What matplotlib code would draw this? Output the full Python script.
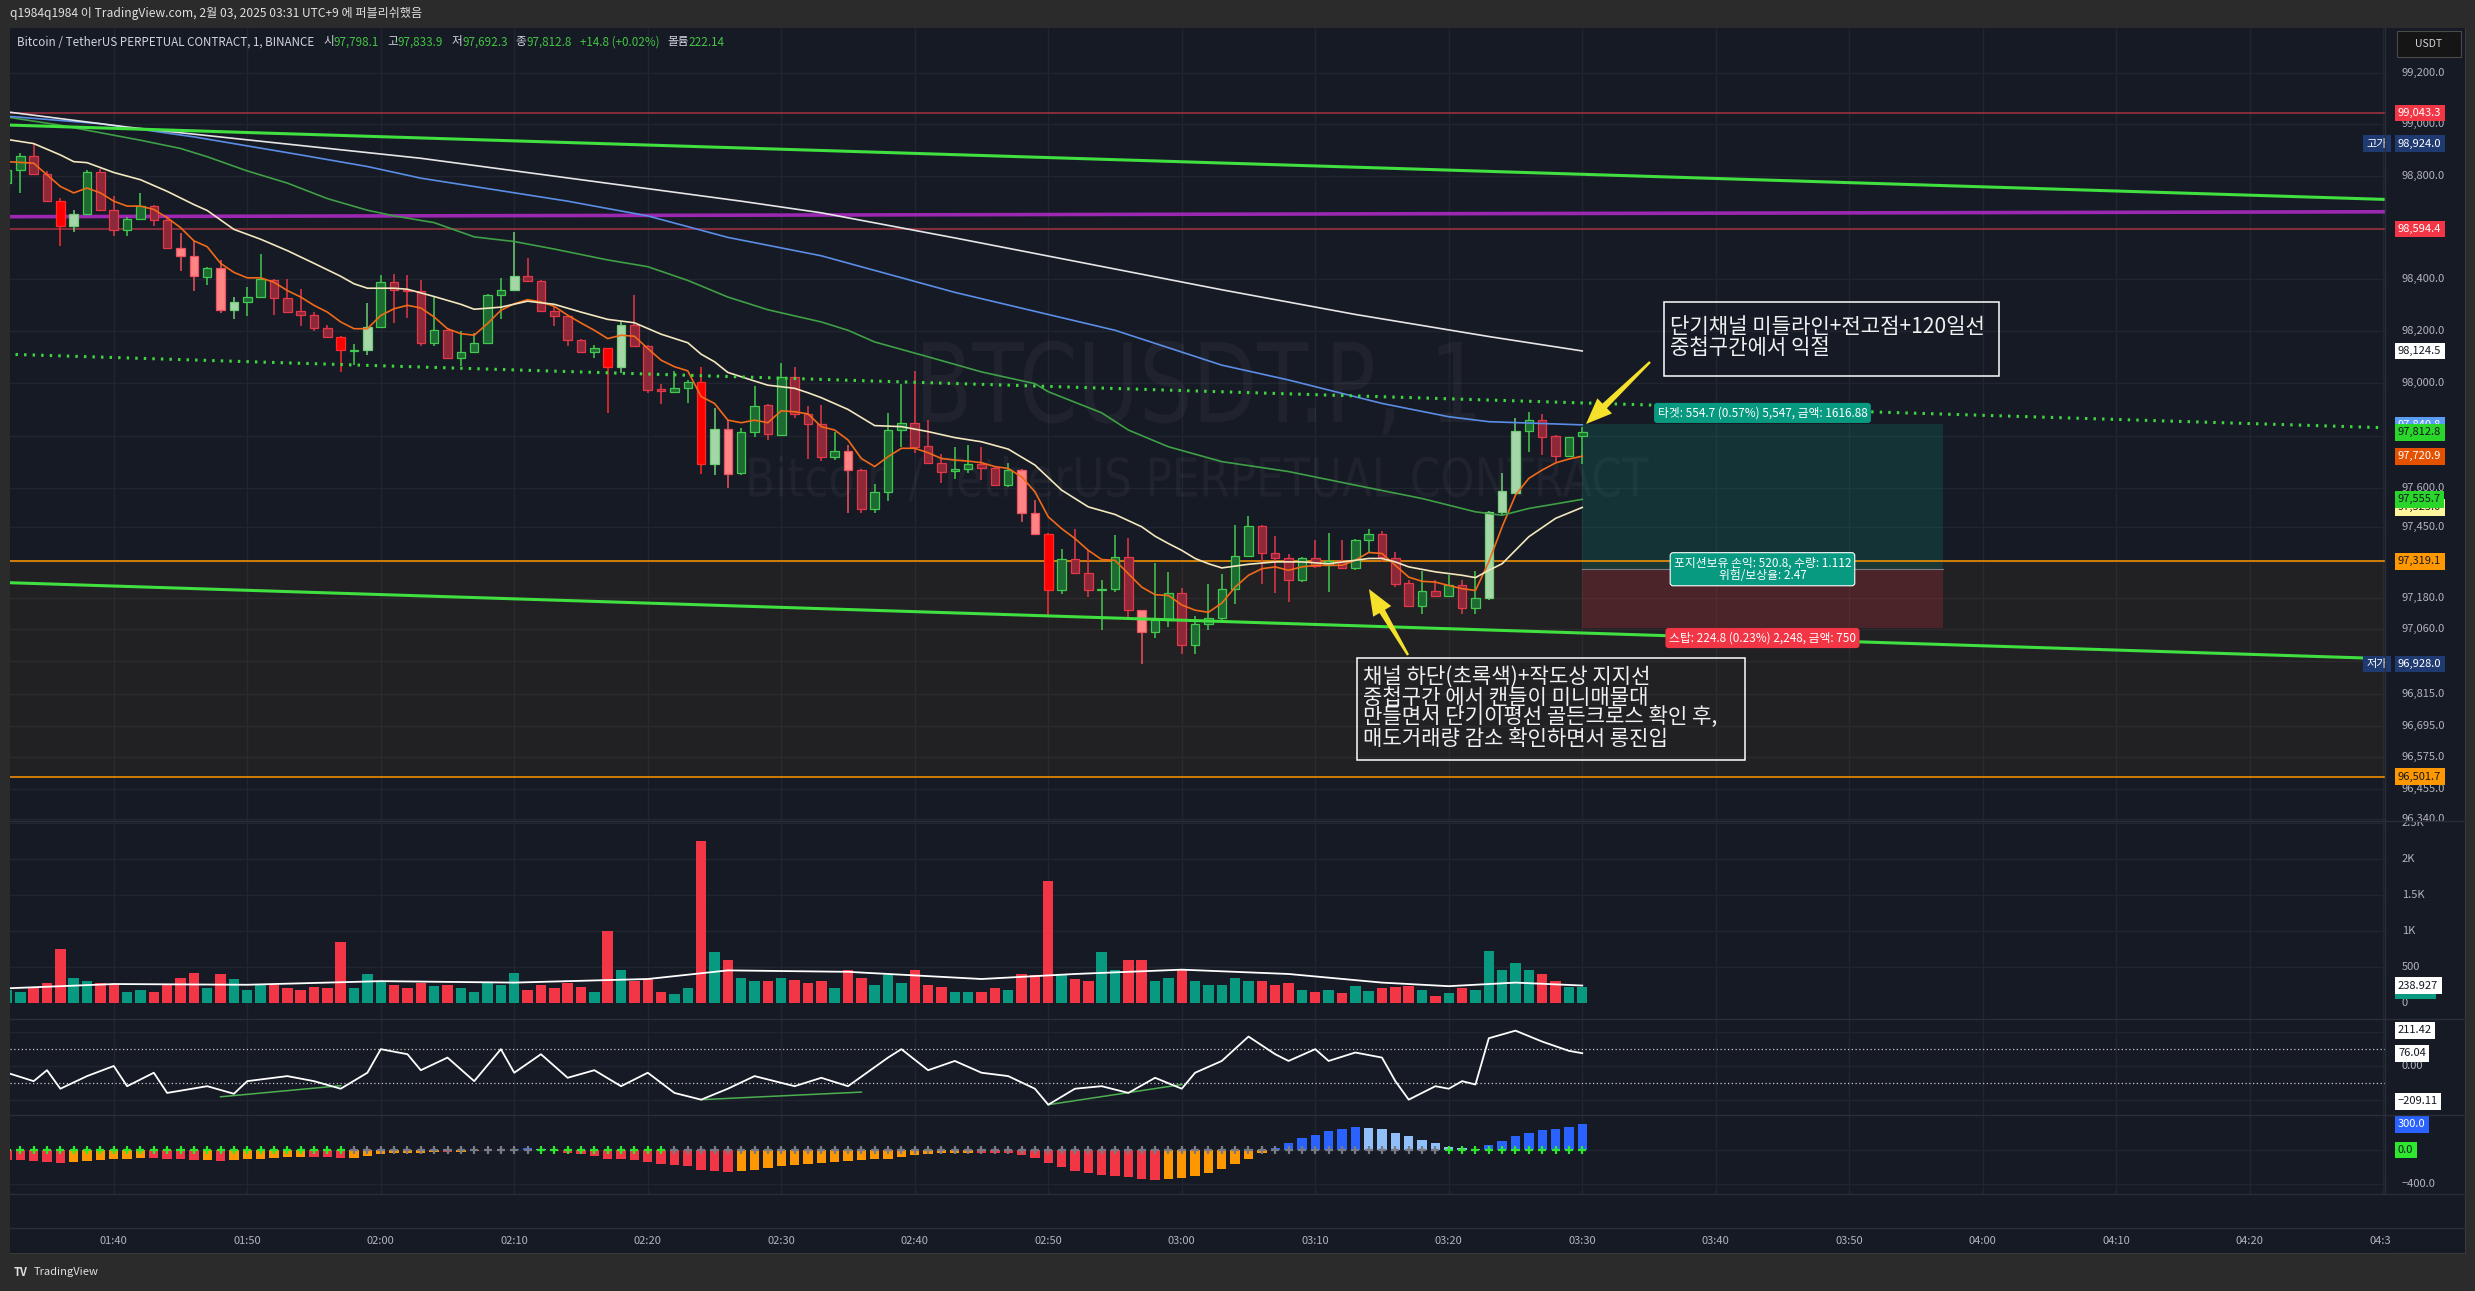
import numpy as np
import matplotlib
matplotlib.use("Agg")
import matplotlib.pyplot as plt
import matplotlib.transforms as mtrans
from matplotlib.patches import Rectangle, Polygon, PathPatch
from matplotlib.textpath import TextPath
from matplotlib.font_manager import FontProperties
from matplotlib.ticker import NullLocator

plt.rcParams['font.family'] = ['Noto Sans CJK KR', 'DejaVu Sans']

# ---------------- data (1 min bars) ----------------
first_bar = "01:32"
opens = [98772, 98823, 98877, 98808, 98702, 98605, 98651, 98816, 98669, 98592,
         98632, 98683, 98628, 98523, 98489, 98408, 98444, 98281, 98313, 98332,
         98398, 98328, 98277, 98264, 98214, 98179, 98126, 98130, 98217, 98389,
         98361, 98357, 98156, 98207, 98099, 98121, 98156, 98339, 98360, 98413,
         98394, 98279, 98260, 98168, 98121, 98134, 98061, 98226, 98145, 97977,
         97968, 97983, 98004, 97690, 97824, 97658, 97812, 97916, 97802, 98023,
         97881, 97843, 97716, 97741, 97668, 97517, 97582, 97821, 97847, 97760,
         97693, 97664, 97670, 97691, 97677, 97610, 97668, 97502, 97425, 97211,
         97329, 97276, 97211, 97215, 97336, 97132, 97051, 97096, 97198, 97000,
         97081, 97104, 97215, 97340, 97453, 97351, 97330, 97249, 97333, 97304,
         97321, 97295, 97402, 97425, 97333, 97236, 97148, 97206, 97187, 97228,
         97141, 97180, 97508, 97581, 97817, 97859, 97798, 97723, 97798.1]
highs = [98830, 98887, 98924, 98817, 98715, 98666, 98823, 98827, 98721, 98641,
         98733, 98687, 98645, 98578, 98549, 98447, 98476, 98334, 98370, 98498,
         98402, 98402, 98364, 98274, 98223, 98181, 98153, 98309, 98415, 98421,
         98415, 98396, 98332, 98210, 98202, 98194, 98342, 98406, 98583, 98482,
         98396, 98296, 98264, 98171, 98147, 98135, 98239, 98338, 98148, 97997,
         98046, 98013, 98064, 97904, 97859, 97827, 97990, 97921, 98080, 98061,
         97915, 97917, 97815, 97764, 97670, 97614, 97885, 97997, 98047, 97859,
         97728, 97755, 97764, 97755, 97683, 97693, 97670, 97555, 97428, 97365,
         97444, 97361, 97247, 97419, 97410, 97134, 97313, 97278, 97218, 97110,
         97234, 97270, 97457, 97492, 97456, 97415, 97346, 97336, 97402, 97429,
         97402, 97406, 97442, 97436, 97355, 97247, 97281, 97247, 97268, 97247,
         97281, 97511, 97655, 97866, 97891, 97881, 97802, 97796, 97833.9]
lows = [98766, 98734, 98804, 98699, 98530, 98581, 98648, 98666, 98568, 98568,
        98629, 98606, 98521, 98434, 98357, 98377, 98271, 98246, 98259, 98329,
        98262, 98272, 98219, 98202, 98176, 98044, 98070, 98108, 98214, 98233,
        98253, 98144, 98144, 98092, 98067, 98115, 98150, 98249, 98355, 98393,
        98277, 98219, 98144, 98117, 98099, 97887, 98038, 98143, 97964, 97921,
        97965, 97926, 97653, 97649, 97601, 97649, 97796, 97783, 97799, 97866,
        97709, 97702, 97706, 97502, 97502, 97502, 97550, 97757, 97734, 97691,
        97619, 97633, 97658, 97630, 97607, 97604, 97470, 97423, 97116, 97195,
        97272, 97183, 97058, 97202, 97106, 96928, 97027, 97070, 96966, 96968,
        97058, 97096, 97155, 97336, 97231, 97199, 97164, 97240, 97295, 97202,
        97291, 97287, 97349, 97317, 97221, 97147, 97119, 97183, 97183, 97119,
        97119, 97170, 97496, 97576, 97738, 97725, 97700, 97719, 97692.3]
closes = [98823, 98877, 98808, 98702, 98605, 98651, 98816, 98669, 98592, 98632,
          98683, 98628, 98523, 98489, 98414, 98444, 98281, 98313, 98332, 98402,
          98328, 98274, 98264, 98213, 98179, 98127, 98130, 98217, 98389, 98360,
          98356, 98156, 98207, 98099, 98122, 98156, 98339, 98360, 98413, 98394,
          98279, 98259, 98166, 98121, 98134, 98061, 98225, 98144, 97974, 97972,
          97983, 98004, 97690, 97824, 97651, 97812, 97914, 97804, 98023, 97881,
          97843, 97716, 97741, 97668, 97517, 97582, 97821, 97847, 97757, 97693,
          97661, 97670, 97689, 97674, 97610, 97668, 97502, 97425, 97211, 97328,
          97275, 97211, 97215, 97336, 97134, 97051, 97096, 97198, 97000, 97081,
          97104, 97215, 97340, 97453, 97351, 97330, 97249, 97332, 97302, 97321,
          97295, 97402, 97425, 97336, 97234, 97148, 97206, 97187, 97228, 97141,
          97180, 97508, 97587, 97817, 97859, 97796, 97723, 97793, 97812.8]
# candle shade per bar: g/G green normal/high volume, r/R red normal/very high, p red high
styles = ("ggrrRGgrrg" "grrppgpGgg" "rrrrrRgGgr" "rrgrggggGr" "rrrrgRGrrr" "ggRGpggrgr"
          "rrgprgggrr" "rggrrgppRg" "rrggrpggrg" "ggggrrrgrg" "rggrrrgrgr" "gGGGgrrgg")
volumes = [180, 150, 200, 280, 750, 350, 300, 280, 250, 150,
           170, 150, 250, 350, 420, 200, 400, 330, 180, 260,
           240, 200, 180, 220, 200, 850, 200, 400, 300, 250,
           200, 280, 230, 250, 200, 150, 280, 250, 420, 180,
           250, 200, 280, 220, 150, 1000, 450, 300, 330, 150,
           120, 200, 2250, 700, 600, 350, 300, 300, 350, 320,
           280, 300, 200, 450, 350, 250, 380, 280, 450, 250,
           220, 150, 150, 150, 200, 170, 400, 380, 1700, 400,
           330, 300, 700, 450, 600, 600, 300, 350, 450, 300,
           250, 250, 350, 300, 300, 250, 280, 170, 150, 180,
           130, 230, 160, 200, 220, 230, 170, 100, 140, 200,
           180, 720, 450, 550, 450, 400, 300, 220, 222.14]
ema_fast = [98855, 98852, 98849, 98804, 98759, 98734, 98753, 98734, 98702, 98683,
            98683, 98670, 98638, 98600, 98549, 98526, 98462, 98427, 98406, 98406,
            98389, 98357, 98332, 98300, 98274, 98236, 98210, 98210, 98261, 98287,
            98300, 98290, 98255, 98210, 98191, 98185, 98230, 98281, 98306, 98322,
            98313, 98296, 98262, 98232, 98204, 98172, 98185, 98181, 98134, 98089,
            98064, 98048, 97949, 97923, 97859, 97849, 97859, 97849, 97895, 97891,
            97883, 97834, 97821, 97783, 97712, 97681, 97719, 97751, 97751, 97734,
            97712, 97706, 97702, 97696, 97681, 97674, 97642, 97585, 97489, 97444,
            97406, 97361, 97326, 97323, 97272, 97221, 97192, 97189, 97153, 97133,
            97125, 97160, 97221, 97266, 97291, 97298, 97285, 97298, 97304, 97304,
            97304, 97323, 97353, 97349, 97304, 97259, 97243, 97240, 97227, 97215,
            97208, 97317, 97451, 97572, 97636, 97668, 97695, 97710, 97720.9]

ma_cream_t = ["01:32", "01:34", "01:36", "01:37", "01:38", "01:40", "01:42", "01:44", "01:46", "01:47",
              "01:49", "01:51", "01:53", "01:55", "01:57", "01:58", "01:59", "02:01", "02:02", "02:04",
              "02:06", "02:07", "02:09", "02:11", "02:13", "02:15", "02:17", "02:19", "02:21", "02:23",
              "02:24", "02:25", "02:26", "02:28", "02:29", "02:31", "02:32", "02:33", "02:35", "02:37",
              "02:39", "02:41", "02:43", "02:45", "02:47", "02:49", "02:51", "02:53", "02:55", "02:57",
              "02:58", "02:59", "03:00", "03:01", "03:02", "03:03", "03:05", "03:07", "03:09", "03:11",
              "03:13", "03:14", "03:15", "03:16", "03:17", "03:19", "03:21", "03:22", "03:23", "03:24",
              "03:26", "03:28", "03:30"]
ma_cream_v = [98941, 98925, 98881, 98855, 98851, 98813, 98785, 98740, 98689, 98666,
              98593, 98555, 98511, 98462, 98412, 98383, 98366, 98366, 98362, 98334,
              98304, 98285, 98293, 98316, 98304, 98274, 98246, 98233, 98189, 98156,
              98112, 98083, 98042, 98009, 97993, 97981, 97964, 97945, 97900, 97838,
              97834, 97815, 97792, 97776, 97748, 97687, 97591, 97527, 97498, 97451,
              97415, 97387, 97361, 97330, 97310, 97294, 97308, 97317, 97317, 97310,
              97323, 97330, 97330, 97317, 97298, 97279, 97266, 97257, 97285, 97310,
              97413, 97483, 97525]
ma_green_t = ["01:32", "01:36", "01:39", "01:42", "01:45", "01:47", "01:50", "01:53", "01:56", "01:59",
              "02:01", "02:04", "02:07", "02:10", "02:13", "02:17", "02:20", "02:23", "02:26", "02:29",
              "02:33", "02:35", "02:37", "02:41", "02:45", "02:49", "02:50", "02:54", "02:56", "02:59",
              "03:03", "03:08", "03:13", "03:18", "03:22", "03:24", "03:26", "03:30"]
ma_green_v = [99028, 98996, 98967, 98938, 98906, 98874, 98819, 98772, 98712, 98667,
              98645, 98619, 98564, 98546, 98517, 98475, 98449, 98396, 98332, 98283,
              98236, 98204, 98159, 98102, 98044, 97999, 97968, 97887, 97821, 97757,
              97700, 97662, 97610, 97559, 97508, 97495, 97521, 97555.7]
ma_blue_t = ["01:32", "01:39", "01:46", "01:54", "01:59", "02:03", "02:14", "02:20", "02:26", "02:33",
             "02:43", "02:55", "03:03", "03:08", "03:15", "03:20", "03:23", "03:30"]
ma_blue_v = [99031, 99002, 98951, 98881, 98836, 98791, 98702, 98645, 98562, 98491,
             98350, 98204, 98070, 98013, 97923, 97872, 97853, 97840.8]
ma_white_t = ["01:32", "01:41", "01:49", "02:03", "02:27", "02:33", "02:43", "02:53", "03:03", "03:13",
              "03:23", "03:30"]
ma_white_v = [99048, 98989, 98945, 98868, 98702, 98657, 98560, 98460, 98360, 98265, 98180, 98124.5]
vol_ma_t = ["01:32", "01:40", "01:50", "02:00", "02:10", "02:20", "02:26", "02:35", "02:45", "02:52",
            "03:00", "03:08", "03:15", "03:20", "03:25", "03:30"]
vol_ma_v = [200, 260, 250, 300, 280, 330, 450, 430, 330, 400, 460, 400, 280, 230, 280, 238.927]

# drawn objects
channel_top = [("01:32", 98997), ("04:30", 98709)]
channel_mid = [("01:32", 98112), ("04:30", 97830)]
channel_bot = [("01:32", 97238), ("04:30", 96949)]
purple_line = [("01:32", 98642), ("04:30", 98661)]
red_levels = [99043.3, 98594.4]
zone = (96501.7, 97319.1)
pos_start, pos_end = "03:30", "03:57"
pos_entry, pos_target, pos_stop = 97289.0, 97844.0, 97064.0

# oscillators
cci_min = [0, 2, 3, 4, 6, 8, 9, 11, 12, 15, 17, 18, 21, 23, 25, 27, 28, 30, 31, 33,
           35, 37, 38, 40, 42, 44, 46, 48, 50, 52, 54, 56, 59, 61, 63, 66, 67, 69, 71, 73,
           75, 77, 78, 80, 82, 84, 86, 88, 89, 91, 93, 95, 96, 98, 99, 101, 103, 104, 105, 107,
           108, 109, 110, 111, 113, 115, 117, 118]
cci_val = [-40, -90, -25, -135, -60, 0, -120, -40, -160, -120, -165, -90, -60, -90, -135, -40, 100, 70, -25, 50,
           -90, 100, -40, 70, -70, -25, -120, -40, -160, -200, -135, -60, -120, -70, -120, 50, 100, -25, 30, -40,
           -60, -135, -230, -135, -120, -160, -70, -135, -40, 30, 175, 70, 30, 100, 30, 80, 50, -90, -200, -120,
           -135, -90, -110, 165, 210, 145, 90, 76.04]
cci_div = [[("01:48", -183), ("01:57", -117)], [("02:24", -200), ("02:36", -155)],
           [("02:50", -230), ("03:00", -110)]]
squeeze = [-115, -120, -130, -140, -150, -145, -130, -120, -110, -100, -90,
           -95, -100, -110, -120, -115, -125, -120, -110, -100, -90,
           -85, -80, -80, -85, -95, -90, -70, -50, -40, -35,
           -30, -25, -25, -20, -15, -5, 5, 15, 20, 10,
           -10, -30, -50, -70, -100, -110, -120, -140, -160, -180,
           -190, -230, -250, -260, -250, -230, -210, -190, -170, -160,
           -150, -140, -130, -120, -110, -100, -80, -60, -50, -40,
           -35, -30, -30, -35, -40, -60, -90, -150, -200, -240,
           -270, -290, -300, -320, -340, -350, -340, -330, -300, -270,
           -220, -160, -100, -40, 20, 80, 140, 180, 220, 250,
           270, 260, 240, 200, 160, 120, 80, 40, 20, 10,
           60, 110, 160, 200, 230, 250, 270, 300]
squeeze_dots = "g" * 26 + "k" * 14 + "g" * 10 + "k" * 58 + "g" * 11

price_ticks = [99200, 99000, 98800, 98600, 98400, 98200, 98000, 97800, 97600, 97450, 97320,
               97180, 97060, 96940, 96815, 96695, 96575, 96455, 96340]


def tm(s):
    hh, mm = s.split(":")
    return int(hh) * 60 + int(mm)


def pts(seq):
    return [tm(a) for a, _ in seq], [b for _, b in seq]


# ---------------- layout ----------------
W, H = 2475, 1291
BG = '#161a25'
FRAME = '#2b2b2b'
GRID = '#21252f'
SEP = '#2a2e39'
AXT = '#b2b5be'

X0, X1 = 10, 2385           # plot area in pixels
XT0, DX = 20.3, 13.35       # pixel of the 01:33 bar, pixels per minute


def px_t(px):
    return tm("01:33") + (px - XT0) / DX


def px_price(py):
    return 99200 * np.exp(-(py - 72.7) / 25526)


T_L, T_R = px_t(X0), px_t(X1)

fig = plt.figure(figsize=(W / 100, H / 100), dpi=100)
fig.patch.set_facecolor(FRAME)
fig.add_artist(Rectangle((10 / W, 1 - 1253 / H), 2455 / W, 1225 / H, transform=fig.transFigure,
                         fc=BG, ec='#3a3a3a', lw=0.8, zorder=-10))


def pane(y0, y1, x0=X0, x1=X1):
    a = fig.add_axes([x0 / W, 1 - y1 / H, (x1 - x0) / W, (y1 - y0) / H])
    a.set_facecolor(BG)
    for s in a.spines.values():
        s.set_visible(False)
    a.set_xticks([])
    a.set_yticks([])
    a.set_xlim(T_L, T_R)
    return a


ax = pane(28, 821)
ax.set_yscale('log')
ax.set_ylim(px_price(821), px_price(28))
ax.yaxis.set_major_locator(NullLocator())
ax.yaxis.set_minor_locator(NullLocator())
axv = pane(821, 1019)
axv.set_ylim((1002.7 - 1019) / 35.9 * 500, (1002.7 - 821) / 35.9 * 500)
axc = pane(1019, 1115)
axc.set_ylim((1066 - 1115) / 0.1683, (1066 - 1019) / 0.1683)
axh = pane(1115, 1194)
axh.set_ylim((1150 - 1194) / 0.0858, (1150 - 1115) / 0.0858)
pane(1194, 1228)
axt = pane(1228, 1253, X0, 2390)
axt.set_xlim(T_L, px_t(2390))
axt.set_ylim(0, 1)

# price scale columns
pmain = pane(28, 821, 2385, 2465)
pmain.set_yscale('log')
pmain.set_ylim(ax.get_ylim())
pmain.yaxis.set_major_locator(NullLocator())
pmain.yaxis.set_minor_locator(NullLocator())
pvol = pane(821, 1019, 2385, 2465)
pvol.set_ylim(axv.get_ylim())
pcci = pane(1019, 1115, 2385, 2465)
pcci.set_ylim(axc.get_ylim())
phis = pane(1115, 1194, 2385, 2465)
phis.set_ylim(axh.get_ylim())
for p in (pmain, pvol, pcci, phis):
    p.set_xlim(0, 1)

# separators
for yy in (821, 1019, 1115, 1194, 1228):
    fig.add_artist(plt.Line2D([10 / W, 2465 / W], [1 - yy / H] * 2, color=SEP, lw=1, zorder=2))
fig.add_artist(plt.Line2D([2385 / W] * 2, [1 - 28 / H, 1 - 1194 / H], color=SEP, lw=1, zorder=2))

# grids
tick_times = list(range(tm("01:40"), tm("04:30") + 1, 10))
for a in (ax, axv, axc, axh):
    for tt in tick_times:
        a.axvline(tt, color=GRID, lw=1, zorder=0.5)
for v in price_ticks:
    ax.axhline(v, color=GRID, lw=1, zorder=0.5)
for v in (500, 1000, 1500, 2000, 2500):
    axv.axhline(v, color=GRID, lw=1, zorder=0.5)
for v in (200, 0, -200):
    axc.axhline(v, color=GRID, lw=1, zorder=0.5)
for v in (0, -400):
    axh.axhline(v, color=GRID, lw=1, zorder=0.5)


# watermark
def watermark(text, cx, cy, width, cap):
    fp = FontProperties(family='DejaVu Sans')
    tp = TextPath((0, 0), text, size=100, prop=fp)
    ext = tp.get_extents()
    caph = TextPath((0, 0), "B", size=100, prop=fp).get_extents().height
    tr = (mtrans.Affine2D().translate(-ext.x0 - ext.width / 2, -caph / 2)
          .scale(width / ext.width, cap / caph).translate(cx, H - cy))
    ax.add_artist(PathPatch(tp, transform=tr, fc='white', ec='none', alpha=0.045, zorder=0.8))


watermark("BTCUSDT.P, 1", 1199, 382, 552, 80)
watermark("Bitcoin / TetherUS PERPETUAL CONTRACT", 1199, 477, 899, 39)

# zone, levels, channel
ax.axhspan(zone[0], zone[1], color='#ff9800', alpha=0.05, lw=0, zorder=0.6)
for v in zone:
    ax.axhline(v, color='#ff9800', lw=1.1, zorder=2)
for v in red_levels:
    ax.axhline(v, color='#a33240', lw=1.1, zorder=2)
xp, yp = pts(purple_line)
ax.plot(xp, yp, color='#9c27b0', lw=2.6, zorder=2)

# long position tool
t0, t1 = tm(pos_start), tm(pos_end)
ax.add_patch(Rectangle((t0, pos_entry), t1 - t0, pos_target - pos_entry, fc='#089981', alpha=0.2,
                       lw=0, zorder=1))
ax.add_patch(Rectangle((t0, pos_stop), t1 - t0, pos_entry - pos_stop, fc='#f23645', alpha=0.2,
                       lw=0, zorder=1))
ax.plot([t0, t1], [pos_entry, pos_entry], color='#787b86', lw=0.8, zorder=1.2)

# candles
t = tm(first_bar) + np.arange(len(closes))
o, hi, lo, c = (np.array(v, dtype=float) for v in (opens, highs, lows, closes))
shade = {'g': ('#1d6b33', '#43c94f'), 'G': ('#a5d6a7', '#6fcf76'),
         'r': ('#8c2837', '#e5374a'), 'R': ('#ff0000', '#ff2b2b'),
         'p': ('#ff8585', '#f0525f')}
face = [shade[s][0] for s in styles]
edge = [shade[s][1] for s in styles]
ax.vlines(t, lo, hi, colors=edge, lw=1.1, zorder=4)
ax.bar(t, np.maximum(np.abs(c - o), 1.5), bottom=np.minimum(o, c), width=0.64, color=face,
       edgecolor=edge, linewidth=0.9, zorder=4.1)

# moving averages
ax.plot(t, ema_fast, color='#f06a1a', lw=1.2, zorder=5)
for tl, vl, col in ((ma_cream_t, ma_cream_v, '#f2e7bd'), (ma_green_t, ma_green_v, '#3f9f46'),
                    (ma_blue_t, ma_blue_v, '#5a8de6'), (ma_white_t, ma_white_v, '#e6e6e6')):
    ax.plot([tm(s) for s in tl], vl, color=col, lw=1.2, zorder=5)

xp, yp = pts(channel_top)
ax.plot(xp, yp, color='#3fe03f', lw=2.2, zorder=5.2)
xp, yp = pts(channel_bot)
ax.plot(xp, yp, color='#3fe03f', lw=2.2, zorder=5.2)
xp, yp = pts(channel_mid)
ax.plot(xp, yp, color='#3fd63f', lw=2.2, ls=(0, (0.8, 2.0)), zorder=5.2)

# position labels
mid = (t0 + t1) / 2
lab = dict(ha='center', va='center', fontsize=8.5, color='white', zorder=7, clip_on=False)
ax.annotate("타겟: 554.7 (0.57%) 5,547, 금액: 1616.88", (mid, pos_target), xytext=(0, 8),
            textcoords='offset points',
            bbox=dict(boxstyle='round,pad=0.3,rounding_size=0.25', fc='#089981', ec='none'), **lab)
ax.annotate("포지션보유 손익: 520.8, 수량: 1.112\n위험/보상율: 2.47", (mid, pos_entry), xytext=(0, 0),
            textcoords='offset points', linespacing=1.0,
            bbox=dict(boxstyle='round,pad=0.3,rounding_size=0.25', fc='#089981', ec='white', lw=0.8),
            **lab)
ax.annotate("스탑: 224.8 (0.23%) 2,248, 금액: 750", (mid, pos_stop), xytext=(0, -7),
            textcoords='offset points',
            bbox=dict(boxstyle='round,pad=0.3,rounding_size=0.25', fc='#f23645', ec='none'), **lab)

# volume pane
vcol = np.where(c >= o, '#089981', '#f23645')
axv.bar(t, volumes, width=0.78, color=vcol, zorder=3)
axv.plot([tm(s) for s in vol_ma_t], vol_ma_v, color='white', lw=1.3, zorder=4)

# cci pane
axc.plot(tm(first_bar) + np.array(cci_min), cci_val, color='white', lw=1.3, zorder=4)
for v in (100, -100):
    axc.axhline(v, color='#c8c8c8', lw=0.9, ls=(0, (1, 2)), zorder=3)
for seg in cci_div:
    xp, yp = pts(seg)
    axc.plot(xp, yp, color='#4caf50', lw=1.1, zorder=3.5)

# squeeze momentum pane
sq = np.array(squeeze, dtype=float)
prev = np.concatenate([[sq[0]], sq[:-1]])
hcol = np.where(sq >= 0, np.where(sq >= prev, '#2962ff', '#90bff9'),
                np.where(sq <= prev, '#f23645', '#ff9800'))
axh.bar(t, sq, width=0.7, color=hcol, zorder=3)
dcol = ['#2ee82e' if d == 'g' else '#787b86' for d in squeeze_dots]
axh.scatter(t, np.zeros(len(t)), marker='+', s=34, c=dcol, linewidths=1.6, zorder=4)

# time axis
for tt in tick_times:
    axt.text(tt, 0.5, f"{tt // 60:02d}:{tt % 60:02d}", ha='center', va='center', fontsize=8,
             color=AXT, clip_on=True)


# price scale labels
def tick(p, v, s):
    p.text(0.2125, v, s, transform=p.get_yaxis_transform(), ha='left', va='center', fontsize=8,
           color=AXT, clip_on=True, zorder=3)


def box(p, v, s, fc, tc, x=0.1625, ha='left', dy=0):
    p.annotate(s, (x, v), xycoords=p.get_yaxis_transform(), xytext=(0, dy), textcoords='offset points',
               ha=ha, va='center', fontsize=8, color=tc, annotation_clip=False, zorder=6,
               bbox=dict(boxstyle='square,pad=0.3', fc=fc, ec='none'))


for v in price_ticks:
    tick(pmain, v, f"{v:,.1f}")
for v, s in ((2500, "2.5K"), (2000, "2K"), (1500, "1.5K"), (1000, "1K"), (500, "500"), (0, "0")):
    tick(pvol, v, s)
tick(pcci, 0, "0.00")
tick(phis, -400, "−400.0")

box(pmain, red_levels[0], f"{red_levels[0]:,.1f}", '#f23645', 'white')
box(pmain, max(highs), f"{max(highs):,.1f}", '#1e3a70', 'white')
box(pmain, max(highs), "고가", '#1e3a70', 'white', x=-0.1, ha='center')
box(pmain, red_levels[1], f"{red_levels[1]:,.1f}", '#f23645', 'white')
box(pmain, ma_white_v[-1], f"{ma_white_v[-1]:,.1f}", 'white', '#131722')
box(pmain, ma_blue_v[-1], f"{ma_blue_v[-1]:,.1f}", '#5b9cf6', 'white')
box(pmain, closes[-1], f"{closes[-1]:,.1f}", '#2bd62b', '#131722')
box(pmain, ema_fast[-1], f"{ema_fast[-1]:,.1f}", '#e65100', 'white')
box(pmain, ma_cream_v[-1], f"{ma_cream_v[-1]:,.1f}", '#fff59d', '#131722')
box(pmain, ma_green_v[-1], f"{ma_green_v[-1]:,.1f}", '#2bd62b', '#131722')
box(pmain, zone[1], f"{zone[1]:,.1f}", '#ff9800', '#131722')
box(pmain, min(lows), f"{min(lows):,.1f}", '#1e3a70', 'white')
box(pmain, min(lows), "저가", '#1e3a70', 'white', x=-0.1, ha='center')
box(pmain, zone[0], f"{zone[0]:,.1f}", '#ff9800', '#131722')
box(pvol, volumes[-1], f"{volumes[-1]:.2f}", '#089981', 'white', dy=-3)
box(pvol, vol_ma_v[-1], f"{vol_ma_v[-1]:.3f}", 'white', '#131722')
box(pcci, 211.42, "211.42", 'white', '#131722')
box(pcci, cci_val[-1], f"{cci_val[-1]:.2f}", 'white', '#131722')
box(pcci, -209.11, "−209.11", 'white', '#131722')
box(phis, squeeze[-1], f"{squeeze[-1]:.1f}", '#2962ff', 'white')
box(phis, 0, "0.0", '#2ee82e', '#131722')

# USDT button
fig.add_artist(Rectangle((2397 / W, 1 - 57 / H), 64 / W, 26 / H, transform=fig.transFigure,
                         fc='#151515', ec='#4a4a4a', lw=0.8, zorder=6))
fig.text(2429 / W, 1 - 44 / H, "USDT", ha='center', va='center', fontsize=7.5, color='#d1d4dc', zorder=7)

# header / legend
fig.text(10 / W, 1 - 14 / H, "q1984q1984 이 TradingView.com, 2월 03, 2025 03:31 UTC+9 에 퍼블리쉬했음",
         ha='left', va='center', fontsize=8.7, color='#e0e0e0')
rend = fig.canvas.get_renderer()
GRN, LT = '#43c443', '#d1d4dc'
parts = [("Bitcoin / TetherUS PERPETUAL CONTRACT, 1, BINANCE", LT, 9), ("시", LT, 0),
         (f"{opens[-1]:,.1f}", GRN, 8), ("고", LT, 0), (f"{highs[-1]:,.1f}", GRN, 8),
         ("저", LT, 0), (f"{lows[-1]:,.1f}", GRN, 8), ("종", LT, 0), (f"{closes[-1]:,.1f}", GRN, 8),
         ("+14.8 (+0.02%)", GRN, 8), ("볼륨", LT, 0), (f"{volumes[-1]:.2f}", GRN, 0)]
xx = 17
for s, col, gap in parts:
    tx = fig.text(xx / W, 1 - 42 / H, s, ha='left', va='center', fontsize=8.4, color=col, zorder=8)
    xx += tx.get_window_extent(rend).width + gap

# bottom bar
fig.text(14 / W, 1 - 1272 / H, "TV", ha='left', va='center', fontsize=8, color='#e0e0e0',
         fontweight='bold')
fig.text(34 / W, 1 - 1272 / H, "TradingView", ha='left', va='center', fontsize=8, color='#e0e0e0')


# annotations (pixel layout)
def note_box(x0, y0, x1, y1, lines, tx, ty0, step):
    fig.add_artist(Rectangle((x0 / W, 1 - y1 / H), (x1 - x0) / W, (y1 - y0) / H,
                             transform=fig.transFigure, fc='none', ec='white', lw=1.1, zorder=8))
    for i, s in enumerate(lines):
        fig.text(tx / W, 1 - (ty0 + i * step) / H, s, ha='left', va='center', fontsize=15.2,
                 color='#f0f0f0', zorder=9)


note_box(1664, 302, 1999, 376, ["단기채널 미들라인+전고점+120일선", "중첩구간에서 익절"], 1670, 327, 20.5)
note_box(1357, 658, 1745, 760, ["채널 하단(초록색)+작도상 지지선", "중첩구간 에서 캔들이 미니매물대",
                                "만들면서 단기이평선 골든크로스 확인 후,", "매도거래량 감소 확인하면서 롱진입"],
         1363, 678, 20.2)


def tv_arrow(tail, tip, col='#f5e12c'):
    a = np.array([tail[0], H - tail[1]], float)
    b = np.array([tip[0], H - tip[1]], float)
    u = (b - a) / np.hypot(*(b - a))
    n = np.array([-u[1], u[0]])
    base = b - u * 26
    poly = [a + n * 1.2, base + n * 3.2, base + n * 10.5, b, base - n * 10.5, base - n * 3.2, a - n * 1.2]
    fig.add_artist(Polygon(poly, closed=True, fc=col, ec='none', transform=mtrans.IdentityTransform(),
                           zorder=8))


tv_arrow((1650, 362), (1586, 424))
tv_arrow((1408, 655), (1369, 589))

fig.savefig("out.png", dpi=100, facecolor=fig.get_facecolor())
